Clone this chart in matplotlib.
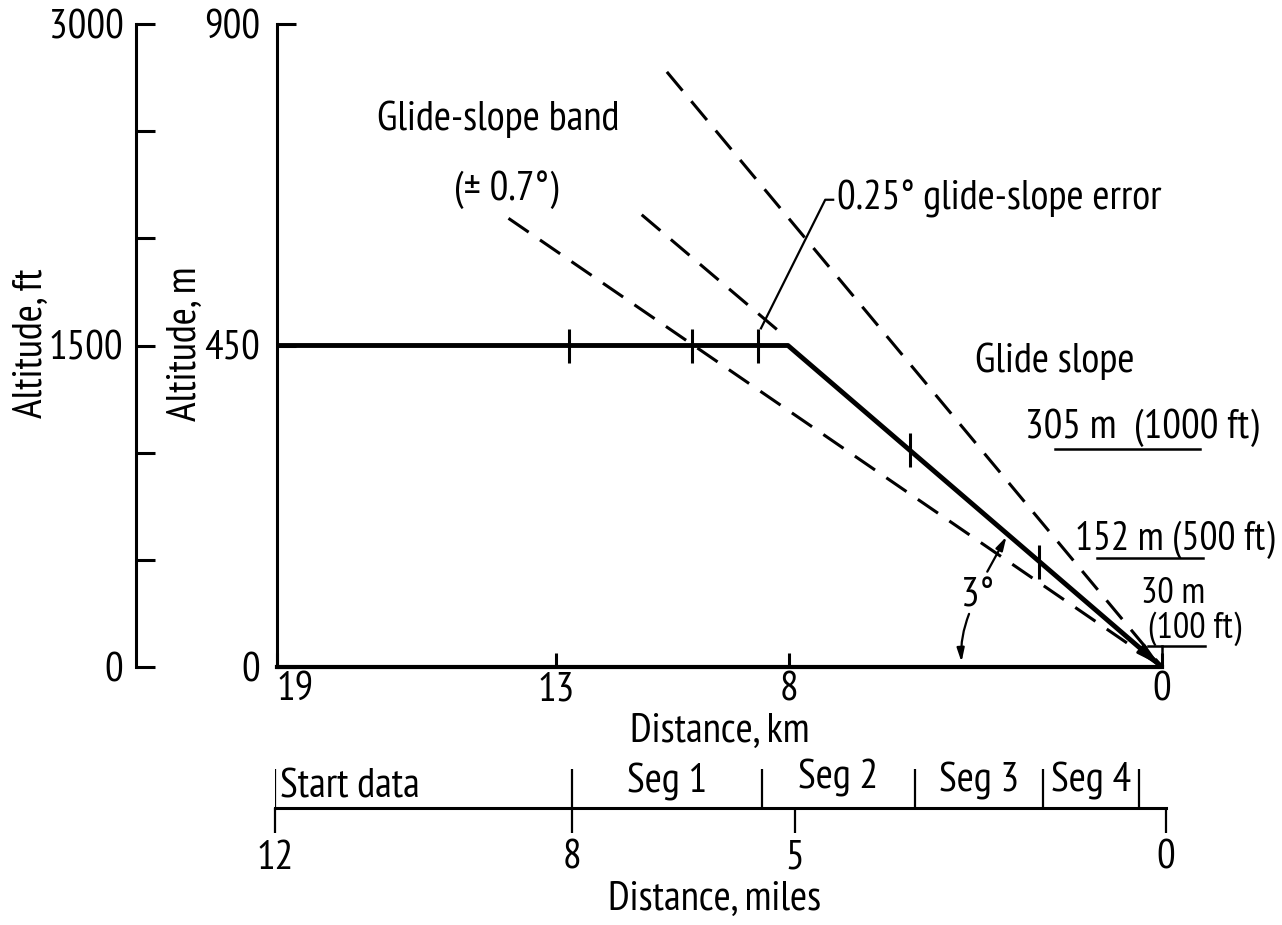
import matplotlib

matplotlib.use("Agg")
import matplotlib.pyplot as plt
import numpy as np

plt.rcParams["font.family"] = ["PT Sans Narrow", "Roboto Condensed", "DejaVu Sans"]

# flight path: distance from threshold (km) and altitude (m)
PATH_KM = [19.0, 8.03, 0.0]
PATH_ALT = [450.0, 450.0, 0.0]
# cross marks along the flight path (km)
MARK_KM = [12.74, 10.09, 8.67, 5.42, 2.63]

# dashed reference lines
BAND_HI_KM = [10.63, 0.0]
BAND_HI_ALT = [833.0, 0.0]
BAND_LO_KM = [14.03, 0.0]
BAND_LO_ALT = [628.0, 0.0]
ERR_KM = [11.17, 8.26]
ERR_ALT = [633.0, 472.0]

KM_TICKS = [19, 13, 8, 0]
M_TICKS = [0, 450, 900]
FT_TICKS = [0, 500, 1000, 1500, 2000, 2500, 3000]
FT_LABELS = ["0", "", "", "1500", "", "", "3000"]
MI_TICKS = [12, 8, 5, 0]

SEG_BOUNDS = [12, 8, 5.44, 3.38, 1.66, 0.36]
SEG_NAMES = ["Start data", "Seg 1", "Seg 2", "Seg 3", "Seg 4"]

LW_AX = 2.2
W, H = 1282, 925


def box(l, t, r, b):
    return [l / W, 1 - b / H, (r - l) / W, (b - t) / H]


fig = plt.figure(figsize=(W / 100, H / 100), dpi=100)

# pick the font size so "Distance, km" is as wide as in the original
renderer = fig.canvas.get_renderer()
probe = fig.text(0, 0, "Distance, km", fontsize=10)
FS = 10 * 180 / probe.get_window_extent(renderer).width
probe.remove()

# ---- main axes (km / m)
ax = fig.add_axes(box(277, 24, 1162, 667))
ax.set_xlim(19, 0)
ax.set_ylim(0, 900)
ax.set_facecolor("none")
for s in ("top", "right"):
    ax.spines[s].set_visible(False)
ax.spines["left"].set_linewidth(LW_AX)
ax.spines["bottom"].set_linewidth(3)
ax.set_xticks(KM_TICKS)
ax.set_xticklabels([str(v) for v in KM_TICKS], fontsize=FS)
ax.get_xticklabels()[0].set_ha("left")
ax.set_yticks(M_TICKS)
ax.set_yticklabels([str(v) for v in M_TICKS], fontsize=FS)
ax.tick_params(axis="y", direction="in", length=14, width=LW_AX, pad=12)
ax.tick_params(axis="x", direction="in", length=10, width=LW_AX, pad=3)
ax.set_xlabel("Distance, km", fontsize=FS)
ax.xaxis.set_label_coords(720 / W, 1 - 713 / H, transform=fig.transFigure)
ax.set_ylabel("Altitude, m", fontsize=FS)
ax.yaxis.set_label_coords(204 / W, 1 - 344 / H, transform=fig.transFigure)

# flight path
ax.plot(PATH_KM, PATH_ALT, color="black", lw=3.5, solid_capstyle="butt", clip_on=False)
ax.annotate("", xy=(0, 0), xytext=(0.6, np.interp(0.6, PATH_KM[::-1], PATH_ALT[::-1])),
            arrowprops=dict(arrowstyle="-|>,head_length=1.4,head_width=0.35", color="black", lw=2))
mark_alt = np.interp(MARK_KM, PATH_KM[::-1], PATH_ALT[::-1])
ax.plot(MARK_KM, mark_alt, ls="none", marker="|", ms=24, mew=2.2, color="black")

# dashed glide-slope lines
for xs, ys in ((BAND_HI_KM, BAND_HI_ALT), (BAND_LO_KM, BAND_LO_ALT), (ERR_KM, ERR_ALT)):
    ax.plot(xs, ys, color="black", lw=2.2, dashes=(8, 4.5))

# annotations
ax.text(14.25, 752, "Glide-slope band", fontsize=FS, ha="center", va="baseline")
ax.text(14.07, 654, "(± 0.7°)", fontsize=FS, ha="center", va="baseline")
ax.text(6.97, 640, "0.25° glide-slope error", fontsize=FS, ha="left", va="baseline")
ax.plot([8.61, 7.23, 7.06], [474, 654, 654], color="black", lw=1.6)
ax.text(4.02, 413, "Glide slope", fontsize=FS, ha="left", va="baseline")

ax.text(2.95, 321, "305 m  (1000 ft)", fontsize=FS, ha="left", va="baseline", clip_on=False)
ax.plot([2.30, -0.82], [305, 305], color="black", lw=1.8, clip_on=False)
ax.text(1.87, 164, "152 m (500 ft)", fontsize=FS * 0.97, ha="left", va="baseline", clip_on=False)
ax.plot([1.40, -0.88], [152, 152], color="black", lw=1.8, clip_on=False)
ax.text(-0.24, 90, "30 m", fontsize=FS * 0.88, ha="center", va="baseline", clip_on=False)
ax.text(-0.71, 41, "(100 ft)", fontsize=FS * 0.88, ha="center", va="baseline", clip_on=False)
ax.plot([0.30, -0.92], [30, 30], color="black", lw=1.8, clip_on=False)
ax.plot([0, 0], [0, 30], color="black", lw=1.8, clip_on=False)

ax.text(3.96, 84, "3°", fontsize=FS, ha="center", va="baseline")
ax.annotate("", xy=(3.31, 186), xytext=(3.78, 130),
            arrowprops=dict(arrowstyle="-|>,head_length=0.8,head_width=0.22", color="black", lw=1.6))
ax.annotate("", xy=(4.30, 3), xytext=(4.12, 78),
            arrowprops=dict(arrowstyle="-|>,head_length=0.8,head_width=0.22", color="black", lw=1.6,
                            connectionstyle="arc3,rad=0.12"))

# ---- feet axis
ax_ft = fig.add_axes(box(136, 24, 200, 667))
ax_ft.set_facecolor("none")
ax_ft.set_ylim(0, 3000)
for s in ("top", "right", "bottom"):
    ax_ft.spines[s].set_visible(False)
ax_ft.spines["left"].set_linewidth(LW_AX)
ax_ft.set_xticks([])
ax_ft.set_yticks(FT_TICKS)
ax_ft.set_yticklabels(FT_LABELS, fontsize=FS)
ax_ft.tick_params(axis="y", direction="in", length=14, width=LW_AX, pad=9)
ax_ft.set_ylabel("Altitude, ft", fontsize=FS)
ax_ft.yaxis.set_label_coords(50 / W, 1 - 343 / H, transform=fig.transFigure)

# ---- miles axis with segments
ax_mi = fig.add_axes(box(275, 762, 1166, 808))
ax_mi.set_facecolor("none")
ax_mi.set_xlim(12, 0)
ax_mi.set_ylim(0, 1)
for s in ("top", "right", "left"):
    ax_mi.spines[s].set_visible(False)
ax_mi.spines["bottom"].set_linewidth(LW_AX)
ax_mi.set_yticks([])
ax_mi.set_xticks(MI_TICKS)
ax_mi.set_xticklabels([str(v) for v in MI_TICKS], fontsize=FS)
ax_mi.tick_params(axis="x", direction="out", length=18, width=1.6, pad=5)
ax_mi.set_xlabel("Distance, miles", fontsize=FS)
ax_mi.xaxis.set_label_coords(715 / W, 1 - 881 / H, transform=fig.transFigure)
ax_mi.vlines(SEG_BOUNDS, 0, 0.84, color="black", lw=1.6)
seg_y = [0.22, 0.33, 0.43, 0.35, 0.35]
ax_mi.text(SEG_BOUNDS[0] - 0.07, seg_y[0], SEG_NAMES[0], fontsize=FS, ha="left", va="baseline")
for i in range(1, len(SEG_NAMES)):
    mid = 0.5 * (SEG_BOUNDS[i] + SEG_BOUNDS[i + 1])
    ax_mi.text(mid, seg_y[i], SEG_NAMES[i], fontsize=FS, ha="center", va="baseline")

fig.savefig("out.png", dpi=100)
